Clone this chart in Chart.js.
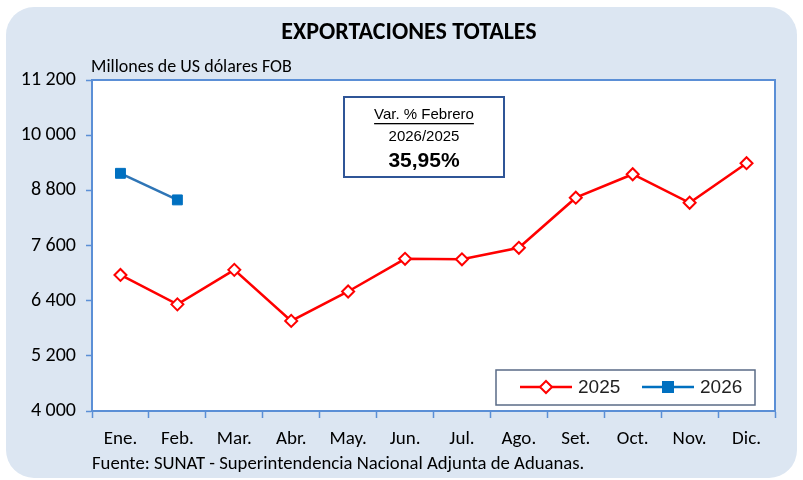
<!DOCTYPE html>
<html>
<head>
<meta charset="utf-8">
<script src="https://cdn.jsdelivr.net/npm/chart.js@4"></script>
<style>
  html, body { margin: 0; padding: 0; background: #ffffff; }
  #wrap { width: 803px; height: 480px; }
</style>
</head>
<body>
<div id="wrap"><canvas id="myChart" width="803" height="480"></canvas></div>
<script>
// data
const months = ["Ene.", "Feb.", "Mar.", "Abr.", "May.", "Jun.", "Jul.", "Ago.", "Set.", "Oct.", "Nov.", "Dic."];
const exp2025 = [6960, 6320, 7070, 5960, 6600, 7310, 7300, 7550, 8640, 9150, 8530, 9390];
const exp2026 = [9170, 8592];
const yTicks = [4000, 5200, 6400, 7600, 8800, 10000, 11200];

const FONT = "Carlito, Lato, Roboto, sans-serif";
const ARIAL = "'Liberation Sans', Arial, sans-serif";
const axisBlue = "#5b8fd6";

function fmt(v) {
  return String(v).replace(/\B(?=(\d{3})+(?!\d))/g, " ");
}

// background, frame, texts, annotation box and legend
const decor = {
  id: "decor",
  beforeDraw(chart) {
    const ctx = chart.ctx;
    ctx.save();
    ctx.fillStyle = "#dce6f2";
    ctx.beginPath();
    ctx.roundRect(6, 7, 791, 471, 28);
    ctx.fill();
    const a = chart.chartArea;
    ctx.fillStyle = "#ffffff";
    ctx.fillRect(a.left, a.top, a.right - a.left, a.bottom - a.top);
    ctx.restore();
  },
  afterDatasetsDraw(chart) {
    const ctx = chart.ctx;
    const a = chart.chartArea;
    ctx.save();
    // plot frame
    ctx.strokeStyle = axisBlue;
    ctx.lineWidth = 2;
    ctx.strokeRect(a.left, a.top, a.right - a.left, a.bottom - a.top);

    // title and notes
    ctx.fillStyle = "#000000";
    ctx.textBaseline = "middle";
    ctx.textAlign = "center";
    ctx.font = "bold 24px " + FONT;
    ctx.fillText("EXPORTACIONES TOTALES", 409, 33);
    ctx.textAlign = "left";
    ctx.font = "18px " + FONT;
    ctx.fillText("Millones de US dólares FOB", 91, 67);
    ctx.font = "18.7px " + FONT;
    ctx.fillText("Fuente: SUNAT - Superintendencia Nacional Adjunta de Aduanas.", 92, 464);

    // annotation box
    ctx.fillStyle = "#ffffff";
    ctx.fillRect(344, 97, 160, 80);
    ctx.strokeStyle = "#2f5597";
    ctx.lineWidth = 2;
    ctx.strokeRect(344, 97, 160, 80);
    ctx.fillStyle = "#000000";
    ctx.textAlign = "center";
    ctx.font = "15px " + ARIAL;
    ctx.fillText("Var. % Febrero", 424, 115);
    const w = ctx.measureText("Var. % Febrero").width;
    ctx.fillRect(424 - w / 2, 123, w, 1.3);
    ctx.fillText("2026/2025", 424, 137);
    ctx.font = "bold 21px " + ARIAL;
    ctx.fillText("35,95%", 424, 161);

    // legend
    ctx.fillStyle = "#ffffff";
    ctx.fillRect(496, 370, 259, 35);
    ctx.strokeStyle = "#5a6b86";
    ctx.lineWidth = 1.5;
    ctx.strokeRect(496, 370, 259, 35);
    ctx.textAlign = "left";
    ctx.font = "19px " + ARIAL;
    // 2025
    ctx.strokeStyle = "#ff0000";
    ctx.lineWidth = 2.5;
    ctx.beginPath(); ctx.moveTo(520, 387); ctx.lineTo(572, 387); ctx.stroke();
    ctx.fillStyle = "#ffffff";
    ctx.lineWidth = 2;
    ctx.beginPath();
    ctx.moveTo(546, 381); ctx.lineTo(552, 387); ctx.lineTo(546, 393); ctx.lineTo(540, 387); ctx.closePath();
    ctx.fill(); ctx.stroke();
    ctx.fillStyle = "#222222";
    ctx.fillText("2025", 578, 388);
    // 2026
    ctx.strokeStyle = "#0070c0";
    ctx.lineWidth = 2.5;
    ctx.beginPath(); ctx.moveTo(642, 387); ctx.lineTo(694, 387); ctx.stroke();
    ctx.fillStyle = "#0070c0";
    ctx.fillRect(662, 381, 12, 12);
    ctx.fillStyle = "#222222";
    ctx.fillText("2026", 700, 388);
    ctx.restore();
  }
};

const config = {
  type: "line",
  data: {
    labels: months,
    datasets: [
      {
        label: "2025",
        data: exp2025,
        borderColor: "#ff0000",
        borderWidth: 2.5,
        pointStyle: "rectRot",
        pointRadius: 6,
        pointBackgroundColor: "#ffffff",
        pointBorderColor: "#ff0000",
        pointBorderWidth: 2,
        tension: 0
      },
      {
        label: "2026",
        data: exp2026,
        borderColor: "#2e75b6",
        borderWidth: 2.5,
        pointStyle: "rect",
        pointRadius: 7,
        pointBackgroundColor: "#0070c0",
        pointBorderColor: "#0070c0",
        pointBorderWidth: 1,
        tension: 0
      }
    ]
  },
  options: {
    responsive: false,
    animation: false,
    layout: { padding: { left: 0, top: 80, right: 28, bottom: 0 } },
    plugins: {
      legend: { display: false },
      tooltip: { enabled: false }
    },
    scales: {
      x: {
        offset: true,
        afterFit: (s) => { s.height = 69; },
        grid: { offset: true, drawOnChartArea: false, color: axisBlue, tickLength: 7, tickWidth: 1.5 },
        border: { color: axisBlue, width: 2 },
        ticks: { color: "#000000", padding: 10, font: { family: FONT, size: 19 }, maxRotation: 0, autoSkip: false }
      },
      y: {
        min: 4000,
        max: 11200,
        afterFit: (s) => { s.width = 92; },
        afterBuildTicks: (s) => { s.ticks = yTicks.map(v => ({ value: v })); },
        grid: { drawOnChartArea: false, color: axisBlue, tickLength: 6, tickWidth: 1.5 },
        border: { color: axisBlue, width: 2 },
        ticks: { color: "#000000", padding: 10, font: { family: FONT, size: 20 }, callback: (v) => fmt(v) }
      }
    }
  },
  plugins: [decor]
};

const myChart = new Chart(document.getElementById("myChart"), config);
</script>
</body>
</html>
